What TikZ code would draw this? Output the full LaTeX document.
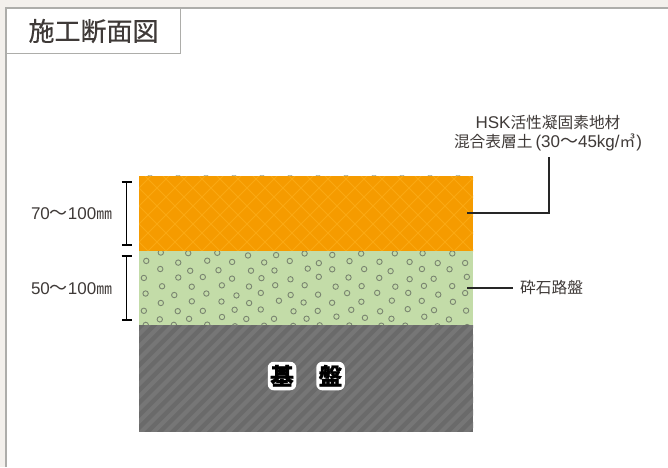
\documentclass[tikz,border=0pt]{standalone}
\usepackage{fontspec}
\setmainfont{Noto Sans CJK JP}
\newfontfamily\latfont{Liberation Sans}
\newcommand{\lat}[1]{{\latfont\fontsize{17}{19}\selectfont #1}}
\newcommand{\wavedash}{{\fontsize{18}{19}\selectfont ～}}
\AtBeginDocument{\lineskiplimit=-100pt\relax}
\usetikzlibrary{arrows.meta}
\definecolor{pagebg}{HTML}{F3F0EC}
\definecolor{framec}{HTML}{ADADAA}
\definecolor{inkc}{HTML}{3F3A38}
\definecolor{orangea}{HTML}{F59B00}
\definecolor{orangeb}{HTML}{FAA812}
\definecolor{greena}{HTML}{C3DCA8}
\definecolor{dotc}{HTML}{7A8570}
\definecolor{graya}{HTML}{6A6A6A}
\definecolor{grayb}{HTML}{767676}
\tikzset{
  lbl/.style={text=inkc,font=\fontsize{15.7}{19}\selectfont,inner sep=0pt,align=center},
  leader/.style={draw=black!85,line width=1.3pt},
  dimline/.style={draw=black,line width=1.6pt,{Bar[width=10pt,line width=1.6pt]}-{Bar[width=10pt,line width=1.6pt]}},
  gravel/.style={draw=dotc,line width=.9pt},
  basetxt/.style={font=\fontsize{23.5}{25}\selectfont\bfseries\addfontfeature{FakeBold=1.2},text=black,fill=white,rounded corners=6pt,inner sep=0pt,minimum width=28.5pt,minimum height=28.5pt,text height=19pt,text depth=1pt}
}
\begin{document}
\begin{tikzpicture}[x=1pt,y=-1pt]
\useasboundingbox (0,0) rectangle (668,467);
\fill[pagebg] (0,0) rectangle (668,467);
\fill[white] (6,8) rectangle (668,467);
\draw[framec,line width=1.2pt] (6,467) -- (6,8) -- (668,8);
\draw[framec,line width=1pt,fill=white] (6,8) rectangle (180,53);
\node[text=inkc,font=\fontsize{26}{26}\selectfont\addfontfeature{FakeBold=0.4},inner sep=0pt] (title) at (93.5,31) {施工断面図};
% green top sliver
\begin{scope}
\clip (139,175) rectangle (473,176);
\foreach \i in {0,...,11} \draw[gravel,dotc!60] (150+\i*28,173.5) circle (2.5);
\end{scope}
% orange layer
\fill[orangea] (139,176) rectangle (473,251);
\begin{scope}
\clip (139,176) rectangle (473,251);
\foreach \i in {-6,...,26} {
  \draw[orangeb,line width=.8pt] (139+\i*18,170) -- ++(90,90);
  \draw[orangeb,line width=.8pt] (139+\i*18,170) -- ++(-90,90);
}
\end{scope}
% gravel layer
\fill[greena] (139,251) rectangle (473,325);
\begin{scope}
\clip (139,251) rectangle (473,325);
\pgfmathsetseed{4217}
\foreach \r in {0,...,9} {
  \pgfmathsetmacro{\rowoff}{mod(\r,2)*14.5}
  \foreach \i in {0,...,12} {
    \pgfmathsetmacro{\cx}{132+\rowoff+\i*29+rand*3}
    \pgfmathsetmacro{\cy}{254+\r*8+rand*1.5}
    \draw[gravel] (\cx,\cy) circle (2.7);
  }
}
\end{scope}
% base layer
\fill[graya] (139,325) rectangle (473,432);
\begin{scope}
\clip (139,325) rectangle (473,431.4);
\foreach \i in {0,...,40} \fill[grayb] (5+\i*12.5,440) -- ++(6,0) -- ++(125,-125) -- ++(-6,0) -- cycle;
\end{scope}
% base label
\node[basetxt] (kiban1) at (282,376) {基};
\node[basetxt] (kiban2) at (330.5,376) {盤};
% dimensions
\coordinate (d1a) at (126.5,181); \coordinate (d1b) at (126.5,246);
\coordinate (d2a) at (126.5,255); \coordinate (d2b) at (126.5,321);
\draw[dimline] (d1a) -- (d1b);
\draw[dimline] (d2a) -- (d2b);
\node[lbl] (dim1) at (71.5,214) {\lat{70}\wavedash\lat{100}㎜};
\node[lbl] (dim2) at (71.5,288.5) {\lat{50}\wavedash\lat{100}㎜};
% labels and leaders
\node[lbl] (hsk) at (548,133) {\lat{HSK}活性凝固素地材\\混合表層土\kern3pt\lat{(30}\wavedash\lat{45kg/}㎥\kern1pt\lat{)}};
\node[lbl,anchor=west] (saiseki) at (520,288) {砕石路盤};
\coordinate (p1) at (467,213); \coordinate (p1t) at (549,157);
\coordinate (p2) at (467,288); \coordinate (p2e) at (513,288);
\draw[leader] (p1t) |- (p1);
\draw[leader] (p2) -- (p2e);
\end{tikzpicture}
\end{document}
